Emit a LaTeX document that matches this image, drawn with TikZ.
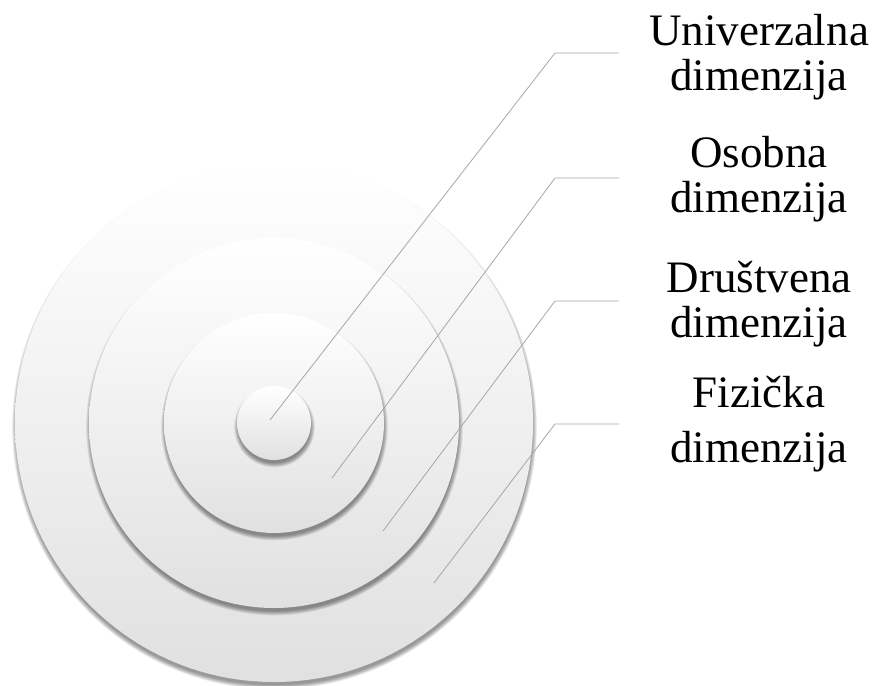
\documentclass[tikz,border=0pt]{standalone}
\usepackage{fontspec}
\setmainfont{Liberation Serif}
\begin{document}
\begin{tikzpicture}[x=1pt,y=-1pt,
  disc/.style={circle, inner sep=0pt, shade, top color=white, middle color=white, bottom color=black!12},
  shadowring/.style={circle, inner sep=0pt, fill=black, opacity=0.055},
  leader/.style={draw=black!35, line width=0.8pt},
  lbl/.style={font=\fontsize{45}{45}\selectfont, align=center, anchor=base, inner sep=0pt}]
\useasboundingbox (0,0) rectangle (874,685);
\coordinate (c) at (274,423);
\coordinate (cs) at (274.5,427);
\foreach \r/\n in {259/d4,185/d3,110/d2,37/d1}{
  \foreach \k in {0,...,8}{
    \node[shadowring, minimum size={2*\r-2+2*\k*0.55}] at (cs) {};
  }
  \node[disc, minimum size={2*\r}] (\n) at (c) {};
}
% leader points
\coordinate (p1) at (270,420);
\coordinate (k1) at (555,53);
\coordinate (e1) at (619,53);
\coordinate (p2) at (332,478);
\coordinate (k2) at (555,178);
\coordinate (e2) at (619,178);
\coordinate (p3) at (383,531);
\coordinate (k3) at (555,301);
\coordinate (e3) at (619,301);
\coordinate (p4) at (434,583);
\coordinate (k4) at (555,424);
\coordinate (e4) at (619,424);
\draw[leader] (p1) -- (k1) -- (e1);
\draw[leader] (p2) -- (k2) -- (e2);
\draw[leader] (p3) -- (k3) -- (e3);
\draw[leader] (p4) -- (k4) -- (e4);
\node[lbl] (t1) at (759,90) {Univerzalna\\dimenzija};
\node[lbl] (t2) at (759,212) {Osobna\\dimenzija};
\node[lbl] (t3) at (759,337) {Društvena\\dimenzija};
\node[lbl] (t4) at (759,462) {Fizička\\[10pt]dimenzija};
\end{tikzpicture}
\end{document}
